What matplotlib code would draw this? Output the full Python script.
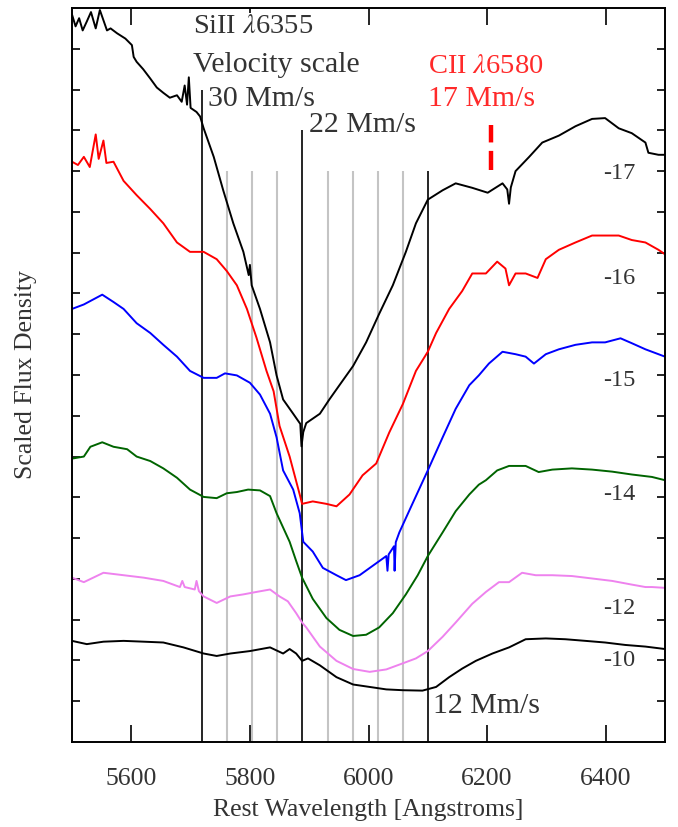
import numpy as np
import matplotlib
matplotlib.use("Agg")
import matplotlib.pyplot as plt

plt.rcParams['font.family'] = ['Liberation Serif', 'DejaVu Serif']
plt.rcParams['mathtext.fontset'] = 'stix'

# ---------------- data ----------------
wl_17 = [5500, 5506, 5512, 5518, 5525, 5532, 5540, 5547, 5553, 5559, 5565, 5576, 5590, 5601, 5604,
         5609, 5620, 5632, 5643, 5654, 5665, 5677, 5685, 5690, 5694, 5697, 5700, 5710,
         5716, 5722, 5739, 5755, 5772, 5789, 5798, 5800, 5803, 5817, 5834, 5845, 5856, 5873, 5885, 5887, 5890, 5895, 5918,
         5934, 5951, 5974, 5996, 6018, 6041, 6063, 6080, 6100, 6125, 6147, 6175, 6201, 6226, 6234, 6237, 6240,
         6248, 6271, 6293, 6321, 6349, 6377, 6399, 6422, 6444, 6467, 6472, 6489, 6500]
fx_17 = [17.84, 17.55, 17.75, 17.45, 17.67, 17.9, 17.5, 17.95, 17.7, 17.45, 17.5, 17.38, 17.25, 17.09, 16.8,
         16.68, 16.5, 16.27, 16.05, 15.92, 15.8, 15.86, 15.7, 16.1, 15.63, 16.3, 15.55, 15.45,
         15.34, 15.05, 14.35, 13.53, 12.72, 12.02, 11.45, 11.7, 11.2, 10.62, 9.8, 8.99, 8.4, 8.05, 7.8, 7.25, 7.6, 7.82, 8.05,
         8.4, 8.75, 9.22, 9.8, 10.5, 11.2, 12.02, 12.72, 13.3, 13.53, 13.7, 13.59, 13.47, 13.7, 13.55, 13.2, 13.6,
         14.0, 14.35, 14.7, 14.87, 15.1, 15.28, 15.3, 15.05, 14.93, 14.7, 14.45, 14.4, 14.4]

wl_16 = [5500, 5510, 5520, 5530, 5540, 5545, 5553, 5558, 5570, 5587, 5609, 5632, 5654, 5677, 5699, 5722, 5744, 5761, 5778,
         5795, 5811, 5828, 5840, 5850, 5867, 5884, 5888, 5906, 5929, 5946, 5968, 5990, 6013, 6035,
         6058, 6080, 6100, 6114, 6136, 6158, 6175, 6198, 6217, 6231, 6237, 6248, 6265, 6285, 6299,
         6321, 6349, 6377, 6399, 6422, 6444, 6467, 6489, 6500]
fx_16 = [14.23, 14.15, 14.35, 14.1, 14.9, 14.3, 14.75, 14.2, 14.23, 13.76, 13.41, 13.07, 12.72, 12.25, 12.02, 12.02, 11.84, 11.55, 11.2,
         10.62, 9.92, 9.1, 8.6, 7.75, 7.0, 6.07, 5.84, 5.9, 5.84, 5.78, 6.07, 6.54, 6.83, 7.59,
         8.29, 9.1, 9.57, 10.03, 10.62, 11.06, 11.49, 11.49, 11.78, 11.61, 11.2, 11.49, 11.49, 11.38, 11.84,
         12.07, 12.25, 12.42, 12.42, 12.42, 12.31, 12.25, 12.07, 11.96]

wl_15 = [5500, 5520, 5551, 5570, 5587, 5609, 5632, 5654, 5677, 5699, 5722, 5744, 5758, 5778, 5800,
         5817, 5834, 5845, 5856, 5873, 5884, 5890, 5906, 5923, 5946, 5962, 5985, 6007, 6030, 6032,
         6034, 6043, 6044, 6046, 6052, 6074, 6100, 6125, 6147, 6170, 6186, 6203, 6226, 6248, 6265,
         6279, 6299, 6321, 6349, 6377, 6399, 6425, 6444, 6467, 6489, 6500]
fx_15 = [10.62, 10.73, 10.97, 10.79, 10.62, 10.27, 10.03, 9.74, 9.45, 9.1, 8.93, 8.93, 9.04, 8.99, 8.81,
         8.52, 8.05, 7.47, 6.66, 6.19, 5.61, 4.91, 4.67, 4.27, 4.09, 3.97, 4.09, 4.32, 4.56, 4.2,
         4.6, 4.8, 4.2, 4.9, 5.14, 5.84, 6.66, 7.47, 8.17, 8.75, 8.99, 9.28, 9.57, 9.51, 9.45,
         9.28, 9.51, 9.63, 9.74, 9.8, 9.8, 9.9, 9.78, 9.63, 9.51, 9.45]

wl_14 = [5500, 5520, 5531, 5551, 5570, 5593, 5609, 5632, 5654, 5677, 5699, 5722, 5744, 5761, 5778,
         5797, 5817, 5834, 5845, 5856, 5867, 5878, 5888, 5906, 5929, 5951, 5974, 5996, 6018, 6041,
         6063, 6083, 6100, 6125, 6147, 6170, 6186, 6198, 6217, 6237, 6265, 6287, 6310, 6343, 6377,
         6411, 6444, 6478, 6500]
fx_14 = [6.95, 7.0, 7.24, 7.35, 7.24, 7.18, 7.0, 6.89, 6.71, 6.48, 6.19, 6.01, 5.98, 6.1, 6.13,
         6.19, 6.17, 6.03, 5.61, 5.26, 4.91, 4.44, 4.03, 3.51, 3.04, 2.75, 2.6, 2.63, 2.81, 3.16,
         3.62, 4.09, 4.56, 5.14, 5.66, 6.07, 6.31, 6.42, 6.66, 6.77, 6.77, 6.62, 6.68, 6.71, 6.68,
         6.63, 6.56, 6.5, 6.42]

wl_12 = [5500, 5520, 5553, 5587, 5621, 5654, 5682, 5686, 5690, 5707, 5710, 5714, 5722, 5744, 5767,
         5789, 5811, 5834, 5850, 5864, 5878, 5888, 5895, 5918, 5946, 5974, 6002, 6030, 6058, 6080,
         6100, 6125, 6147, 6175, 6198, 6220, 6237, 6259, 6282, 6310, 6343, 6377, 6411, 6444, 6467,
         6478, 6500]
fx_12 = [4.03, 3.92, 4.15, 4.09, 4.03, 3.95, 3.8, 3.95, 3.8, 3.74, 3.95, 3.7, 3.57, 3.41, 3.57,
         3.62, 3.68, 3.74, 3.57, 3.45, 3.16, 2.93, 2.81, 2.34, 1.99, 1.79, 1.72, 1.78, 1.93, 2.05,
         2.23, 2.58, 2.93, 3.39, 3.68, 3.92, 3.92, 4.15, 4.09, 4.09, 4.07, 4.01, 3.95, 3.86, 3.8,
         3.8, 3.78]

wl_10 = [5500, 5525, 5553, 5587, 5621, 5654, 5688, 5722, 5744, 5767, 5800, 5834, 5856, 5867, 5878,
         5888, 5898, 5918, 5946, 5974, 6002, 6030, 6058, 6091, 6114, 6136, 6158, 6181, 6209, 6237,
         6265, 6299, 6332, 6366, 6399, 6433, 6467, 6500]
fx_10 = [2.48, 2.4, 2.46, 2.48, 2.46, 2.44, 2.32, 2.17, 2.11, 2.17, 2.23, 2.32, 2.17, 2.28, 2.17,
         1.99, 2.05, 1.88, 1.59, 1.41, 1.35, 1.29, 1.27, 1.26, 1.35, 1.59, 1.8, 1.99, 2.17, 2.32,
         2.52, 2.54, 2.52, 2.48, 2.44, 2.38, 2.34, 2.28]

series_labels = ["-17", "-16", "-15", "-14", "-12", "-10"]
series_colors = ["black", "red", "blue", "darkgreen", "violet", "black"]
label_y = [13.94, 11.37, 8.87, 6.07, 3.27, 1.99]

# velocity scale (Mm/s) for SiII 6355
si_rest = 6355.0
c_mms = 299.792
vel_major = [30, 22, 12]
vel_major_top = [16, 15, 14]
vel_minor = [28, 26, 24, 20, 18, 16, 14]
cii_rest = 6580.0
cii_vel = 17

xticks = [5600, 5800, 6000, 6200, 6400]

# ---------------- figure ----------------
fig = plt.figure(figsize=(6.78, 8.27), dpi=100)
ax = fig.add_axes([72/678, 1-742/827, (665-72)/678, (742-8)/827])
ax.set_xlim(5500, 6500)
ax.set_ylim(0, 18)

def vel_to_wl(rest, v):
    return rest * (1 - v / c_mms)

for v in vel_minor:
    ax.vlines(vel_to_wl(si_rest, v), 0, 14, color='#c4c4c4', lw=1.5, zorder=1)
for v, top in zip(vel_major, vel_major_top):
    ax.vlines(vel_to_wl(si_rest, v), 0, top, color='black', lw=1.2, zorder=1)

all_wl = [wl_17, wl_16, wl_15, wl_14, wl_12, wl_10]
all_fx = [fx_17, fx_16, fx_15, fx_14, fx_12, fx_10]
for wl, fx, col in zip(all_wl, all_fx, series_colors):
    ax.plot(wl, fx, color=col, lw=1.4, zorder=2)

txtc = '#333333'
for lab, yy in zip(series_labels, label_y):
    ax.text(6450, yy, lab, ha='right', va='center', fontsize=17.5, color=txtc)

# CII marker
ax.vlines(vel_to_wl(cii_rest, cii_vel), 14.03, 15.13, color='red', lw=3.2,
          linestyle=(0, (4.3, 1.9)), zorder=3)

fs = 21.5
bb = dict(facecolor='white', edgecolor='none', pad=0.5)
ax.text(5704, 17.39, r"SiII $\lambda$6355", fontsize=20.5, color=txtc, va='baseline', ha='left', bbox=bb, zorder=4)
ax.text(5704, 16.43, "Velocity scale", fontsize=fs, color=txtc, va='baseline', ha='left', zorder=4)
ax.text(5729, 15.6, "30 Mm/s", fontsize=fs, color=txtc, va='baseline', ha='left', zorder=4)
ax.text(5899, 14.96, "22 Mm/s", fontsize=fs, color=txtc, va='baseline', ha='left', zorder=4)
ax.text(6108, 0.71, "12 Mm/s", fontsize=fs, color=txtc, va='baseline', ha='left', zorder=4)
ax.text(6101, 16.4, r"CII $\lambda$6580", fontsize=20.5, color='#ff2a2a', va='baseline', ha='left', zorder=4)
ax.text(6101, 15.6, "17 Mm/s", fontsize=fs, color='#ff2a2a', va='baseline', ha='left', zorder=4)

ax.set_xticks(xticks)
ax.set_yticks(np.arange(1, 18, 1))
ax.set_yticklabels([])
ax.tick_params(axis='x', direction='in', length=12, width=1.2, top=True, bottom=True,
               labelsize=18.5, labelcolor=txtc, pad=19)
ax.tick_params(axis='y', direction='in', length=6, width=1.2, left=True, right=True)
for s in ax.spines.values():
    s.set_linewidth(1.4)

ax.set_xlabel("Rest Wavelength [Angstroms]", fontsize=18.5, color=txtc, labelpad=6)
ax.set_ylabel("Scaled Flux Density", fontsize=18.5, color=txtc, labelpad=22)

fig.savefig("out.png", dpi=100)
